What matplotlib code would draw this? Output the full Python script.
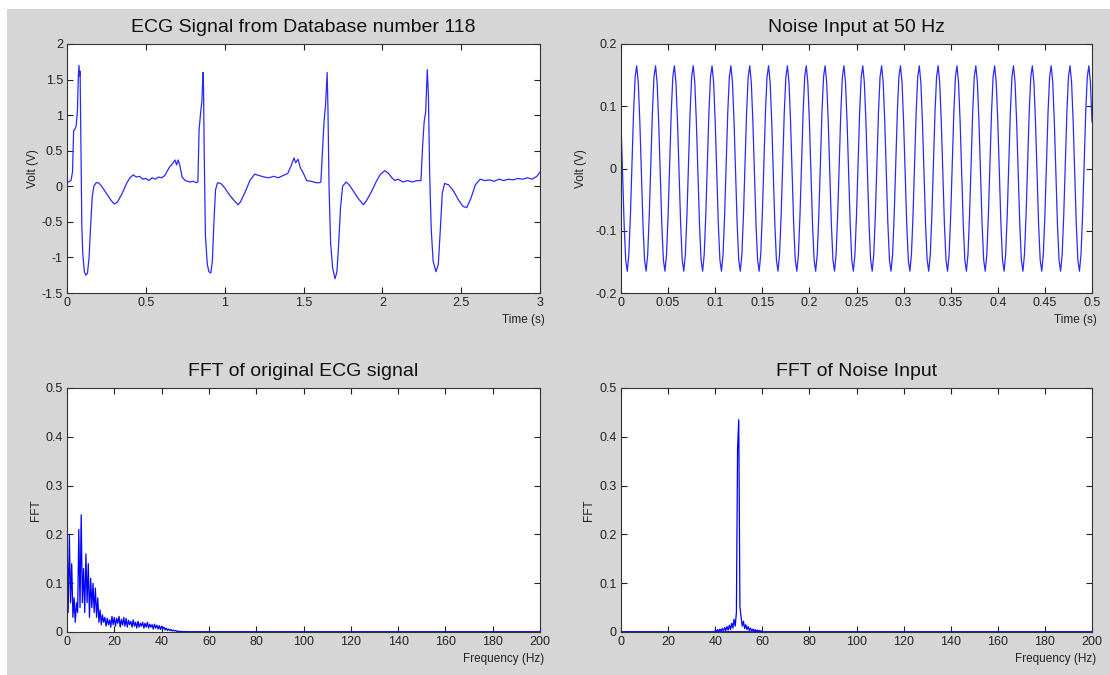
import numpy as np
import matplotlib
matplotlib.use("Agg")
import matplotlib.pyplot as plt
from matplotlib.patches import Rectangle

plt.rcParams['font.family'] = ['Liberation Sans', 'DejaVu Sans']

#%% data
# ECG record 118, key points (time s, volt V)
ecg_t = [0.000, 0.010, 0.025, 0.035, 0.042, 0.050, 0.058, 0.066, 0.072, 0.076,
         0.080, 0.083, 0.088, 0.094, 0.100, 0.110, 0.120, 0.130, 0.140, 0.150,
         0.160, 0.170, 0.185, 0.200, 0.220, 0.250, 0.280, 0.300, 0.320, 0.350,
         0.380, 0.400, 0.420, 0.440, 0.460, 0.480, 0.500, 0.520, 0.540, 0.560,
         0.580, 0.600, 0.620, 0.650, 0.670, 0.685, 0.695, 0.705, 0.715, 0.730,
         0.750, 0.780, 0.800, 0.820, 0.830,
         0.838, 0.848, 0.856, 0.862, 0.866, 0.870, 0.878, 0.890, 0.900, 0.912,
         0.922, 0.932, 0.942, 0.955, 0.975, 1.000, 1.030, 1.060, 1.085, 1.100,
         1.130, 1.160, 1.190, 1.220, 1.250, 1.280, 1.310, 1.340, 1.370, 1.400,
         1.420, 1.440, 1.450, 1.465, 1.480, 1.500, 1.520, 1.550, 1.580, 1.600,
         1.610,
         1.618, 1.630, 1.640, 1.650, 1.655, 1.662, 1.672, 1.685, 1.700, 1.712,
         1.722, 1.735, 1.748, 1.770, 1.790, 1.820, 1.850, 1.880, 1.900, 1.930,
         1.960, 1.985, 2.015, 2.040, 2.060, 2.080, 2.100, 2.130, 2.160, 2.190,
         2.220, 2.245,
         2.255, 2.265, 2.275, 2.285, 2.292, 2.300, 2.310, 2.322, 2.340, 2.355,
         2.368, 2.380, 2.395, 2.420, 2.450, 2.480, 2.510, 2.535, 2.560, 2.590,
         2.620, 2.650, 2.680, 2.710, 2.740, 2.770, 2.800, 2.830, 2.860, 2.890,
         2.920, 2.950, 2.980, 3.000]
ecg_v = [0.05, 0.06, 0.08, 0.20, 0.78, 0.80, 0.85, 1.05, 1.55, 1.70,
         1.55, 1.62, 0.60, -0.55, -0.95, -1.20, -1.25, -1.22, -1.00, -0.55,
         -0.15, 0.00, 0.05, 0.05, 0.00, -0.10, -0.20, -0.25, -0.22, -0.10,
         0.05, 0.12, 0.16, 0.13, 0.14, 0.10, 0.11, 0.08, 0.12, 0.10,
         0.13, 0.12, 0.15, 0.27, 0.32, 0.37, 0.30, 0.37, 0.30, 0.13,
         0.08, 0.06, 0.07, 0.05, 0.06,
         0.80, 1.05, 1.20, 1.60, 1.40, 0.50, -0.70, -1.10, -1.20, -1.22,
         -1.05, -0.50, -0.05, 0.05, 0.04, -0.02, -0.12, -0.20, -0.26, -0.22,
         -0.08, 0.08, 0.17, 0.15, 0.13, 0.12, 0.14, 0.12, 0.15, 0.18,
         0.28, 0.40, 0.33, 0.38, 0.26, 0.18, 0.08, 0.07, 0.05, 0.05,
         0.06,
         0.40, 0.90, 1.15, 1.60, 1.10, 0.00, -0.80, -1.15, -1.30, -1.20,
         -0.85, -0.30, 0.00, 0.06, 0.02, -0.08, -0.18, -0.26, -0.20, -0.08,
         0.06, 0.16, 0.22, 0.18, 0.12, 0.08, 0.10, 0.06, 0.08, 0.06,
         0.08, 0.08,
         0.55, 0.90, 1.05, 1.64, 1.30, 0.20, -0.60, -1.05, -1.20, -1.10,
         -0.60, -0.10, 0.04, 0.02, -0.06, -0.18, -0.28, -0.30, -0.18, 0.02,
         0.10, 0.08, 0.09, 0.07, 0.10, 0.08, 0.10, 0.09, 0.11, 0.10,
         0.12, 0.10, 0.14, 0.20]

# 50 Hz noise, samples at 600 Hz over 0.5 s (one row = one 20 ms cycle)
noise_fs = 600
noise_v = [
    0.075, -0.009, -0.090, -0.147, -0.165, -0.138, -0.075, 0.009, 0.090, 0.147, 0.165, 0.138,
    0.075, -0.009, -0.090, -0.147, -0.165, -0.138, -0.075, 0.009, 0.090, 0.147, 0.165, 0.138,
    0.075, -0.009, -0.090, -0.147, -0.165, -0.138, -0.075, 0.009, 0.090, 0.147, 0.165, 0.138,
    0.075, -0.009, -0.090, -0.147, -0.165, -0.138, -0.075, 0.009, 0.090, 0.147, 0.165, 0.138,
    0.075, -0.009, -0.090, -0.147, -0.165, -0.138, -0.075, 0.009, 0.090, 0.147, 0.165, 0.138,
    0.075, -0.009, -0.090, -0.147, -0.165, -0.138, -0.075, 0.009, 0.090, 0.147, 0.165, 0.138,
    0.075, -0.009, -0.090, -0.147, -0.165, -0.138, -0.075, 0.009, 0.090, 0.147, 0.165, 0.138,
    0.075, -0.009, -0.090, -0.147, -0.165, -0.138, -0.075, 0.009, 0.090, 0.147, 0.165, 0.138,
    0.075, -0.009, -0.090, -0.147, -0.165, -0.138, -0.075, 0.009, 0.090, 0.147, 0.165, 0.138,
    0.075, -0.009, -0.090, -0.147, -0.165, -0.138, -0.075, 0.009, 0.090, 0.147, 0.165, 0.138,
    0.075, -0.009, -0.090, -0.147, -0.165, -0.138, -0.075, 0.009, 0.090, 0.147, 0.165, 0.138,
    0.075, -0.009, -0.090, -0.147, -0.165, -0.138, -0.075, 0.009, 0.090, 0.147, 0.165, 0.138,
    0.075, -0.009, -0.090, -0.147, -0.165, -0.138, -0.075, 0.009, 0.090, 0.147, 0.165, 0.138,
    0.075, -0.009, -0.090, -0.147, -0.165, -0.138, -0.075, 0.009, 0.090, 0.147, 0.165, 0.138,
    0.075, -0.009, -0.090, -0.147, -0.165, -0.138, -0.075, 0.009, 0.090, 0.147, 0.165, 0.138,
    0.075, -0.009, -0.090, -0.147, -0.165, -0.138, -0.075, 0.009, 0.090, 0.147, 0.165, 0.138,
    0.075, -0.009, -0.090, -0.147, -0.165, -0.138, -0.075, 0.009, 0.090, 0.147, 0.165, 0.138,
    0.075, -0.009, -0.090, -0.147, -0.165, -0.138, -0.075, 0.009, 0.090, 0.147, 0.165, 0.138,
    0.075, -0.009, -0.090, -0.147, -0.165, -0.138, -0.075, 0.009, 0.090, 0.147, 0.165, 0.138,
    0.075, -0.009, -0.090, -0.147, -0.165, -0.138, -0.075, 0.009, 0.090, 0.147, 0.165, 0.138,
    0.075, -0.009, -0.090, -0.147, -0.165, -0.138, -0.075, 0.009, 0.090, 0.147, 0.165, 0.138,
    0.075, -0.009, -0.090, -0.147, -0.165, -0.138, -0.075, 0.009, 0.090, 0.147, 0.165, 0.138,
    0.075, -0.009, -0.090, -0.147, -0.165, -0.138, -0.075, 0.009, 0.090, 0.147, 0.165, 0.138,
    0.075, -0.009, -0.090, -0.147, -0.165, -0.138, -0.075, 0.009, 0.090, 0.147, 0.165, 0.138,
    0.075, -0.009, -0.090, -0.147, -0.165, -0.138, -0.075, 0.009, 0.090, 0.147, 0.165, 0.138,
    0.075]

# FFT of ECG, 0..50 Hz every 0.5 Hz, then flat to 200 Hz
ecg_fft_step = 0.5
ecg_fft = [0.21, 0.04, 0.20, 0.06, 0.14, 0.03, 0.07, 0.02, 0.06, 0.04,
           0.21, 0.05, 0.24, 0.06, 0.13, 0.04, 0.16, 0.06, 0.14, 0.03,
           0.11, 0.05, 0.10, 0.04, 0.09, 0.03, 0.07, 0.02, 0.045, 0.015,
           0.035, 0.02, 0.03, 0.012, 0.028, 0.015, 0.025, 0.01, 0.032, 0.015,
           0.03, 0.012, 0.028, 0.018, 0.032, 0.01, 0.026, 0.014, 0.03, 0.012,
           0.028, 0.01, 0.024, 0.015, 0.022, 0.01, 0.025, 0.012, 0.02, 0.008,
           0.022, 0.01, 0.018, 0.012, 0.02, 0.008, 0.018, 0.01, 0.02, 0.008,
           0.016, 0.01, 0.015, 0.006, 0.016, 0.008, 0.014, 0.006, 0.013, 0.005,
           0.012, 0.006, 0.01, 0.004, 0.008, 0.003, 0.006, 0.003, 0.005, 0.002,
           0.004, 0.002, 0.003, 0.001, 0.002, 0.001, 0.001, 0.001, 0.001, 0.0,
           0.001]
ecg_fft_tail_f = [50, 200]
ecg_fft_tail = [0.001, 0.001]

# FFT of noise, 40..60 Hz every 0.5 Hz, ~0 elsewhere
noise_fft_start = 40
noise_fft = [0.004, 0.001, 0.005, 0.001, 0.006, 0.002, 0.007, 0.002, 0.009, 0.003,
             0.011, 0.004, 0.014, 0.005, 0.018, 0.008, 0.026, 0.012, 0.040, 0.375,
             0.435, 0.052, 0.030, 0.012, 0.022, 0.007, 0.015, 0.005, 0.011, 0.003,
             0.008, 0.002, 0.006, 0.002, 0.005, 0.001, 0.004, 0.001, 0.003, 0.001,
             0.002]
noise_fft_edge_f = [0, 200]
noise_fft_edge = [0.001, 0.001]

#%% figure
bg = '#d6d6d6'
line_c = '#2a2aff'
W, H = 1110, 675
fig = plt.figure(figsize=(11.1, 6.75), dpi=100, facecolor='white')
fig.patches.append(Rectangle((7 / W, 0), 1, 1 - 9 / H, transform=fig.transFigure,
                             facecolor=bg, edgecolor='none', zorder=-10))

def make_ax(x0, y0, x1, y1):
    ax = fig.add_axes([x0 / W, 1 - y1 / H, (x1 - x0) / W, (y1 - y0) / H])
    ax.set_facecolor('white')
    ax.tick_params(direction='in', length=4, width=0.8, top=True, right=True,
                   labelsize=9, colors='#222222', pad=3)
    for s in ax.spines.values():
        s.set_color('#333333')
        s.set_linewidth(0.8)
    return ax

def style_labels(ax, title, xlabel, ylabel, ylab_x):
    ax.set_title(title, fontsize=14, color='#111111', pad=9)
    ax.set_xlabel(xlabel, fontsize=8.5, color='#222222', ha='right')
    ax.xaxis.set_label_coords(1.01, -0.085)
    ax.set_ylabel(ylabel, fontsize=8.5, color='#222222')
    ax.yaxis.set_label_coords(ylab_x, 0.5)

# ECG signal
ax1 = make_ax(67, 44, 540, 293)
ax1.plot(ecg_t, ecg_v, color=line_c, lw=0.9)
ax1.set_xlim(0, 3)
ax1.set_ylim(-1.5, 2)
ax1.set_xticks([0, 0.5, 1, 1.5, 2, 2.5, 3])
ax1.set_xticklabels(['0', '0.5', '1', '1.5', '2', '2.5', '3'])
ax1.set_yticks([-1.5, -1, -0.5, 0, 0.5, 1, 1.5, 2])
ax1.set_yticklabels(['-1.5', '-1', '-0.5', '0', '0.5', '1', '1.5', '2'])
style_labels(ax1, 'ECG Signal from Database number 118', 'Time (s)', 'Volt (V)', -0.059)

# noise
ax2 = make_ax(621, 44, 1092, 293)
noise_t = np.arange(len(noise_v)) / noise_fs
ax2.plot(noise_t, noise_v, color=line_c, lw=0.9)
ax2.set_xlim(0, 0.5)
ax2.set_ylim(-0.2, 0.2)
xt = [0, 0.05, 0.1, 0.15, 0.2, 0.25, 0.3, 0.35, 0.4, 0.45, 0.5]
ax2.set_xticks(xt)
ax2.set_xticklabels(['0', '0.05', '0.1', '0.15', '0.2', '0.25', '0.3', '0.35', '0.4', '0.45', '0.5'])
ax2.set_yticks([-0.2, -0.1, 0, 0.1, 0.2])
ax2.set_yticklabels(['-0.2', '-0.1', '0', '0.1', '0.2'])
style_labels(ax2, 'Noise Input at 50 Hz', 'Time (s)', 'Volt (V)', -0.072)

# FFT of ECG
ax3 = make_ax(67, 388, 540, 632)
ecg_f = np.arange(len(ecg_fft)) * ecg_fft_step
ax3.plot(ecg_fft_tail_f, ecg_fft_tail, color='blue', lw=1.3)
ax3.plot(ecg_f, ecg_fft, color='blue', lw=0.9)
ax3.set_xlim(0, 200)
ax3.set_ylim(0, 0.5)
ax3.set_xticks(range(0, 201, 20))
ax3.set_yticks([0, 0.1, 0.2, 0.3, 0.4, 0.5])
ax3.set_yticklabels(['0', '0.1', '0.2', '0.3', '0.4', '0.5'])
style_labels(ax3, 'FFT of original ECG signal', 'Frequency (Hz)', 'FFT', -0.053)

# FFT of noise
ax4 = make_ax(621, 388, 1092, 632)
noise_f = noise_fft_start + np.arange(len(noise_fft)) * 0.5
ax4.plot(noise_fft_edge_f, noise_fft_edge, color='blue', lw=1.3)
ax4.plot(noise_f, noise_fft, color='blue', lw=0.9)
ax4.set_xlim(0, 200)
ax4.set_ylim(0, 0.5)
ax4.set_xticks(range(0, 201, 20))
ax4.set_yticks([0, 0.1, 0.2, 0.3, 0.4, 0.5])
ax4.set_yticklabels(['0', '0.1', '0.2', '0.3', '0.4', '0.5'])
style_labels(ax4, 'FFT of Noise Input', 'Frequency (Hz)', 'FFT', -0.055)

fig.savefig('out.png', dpi=100, facecolor=fig.get_facecolor())
